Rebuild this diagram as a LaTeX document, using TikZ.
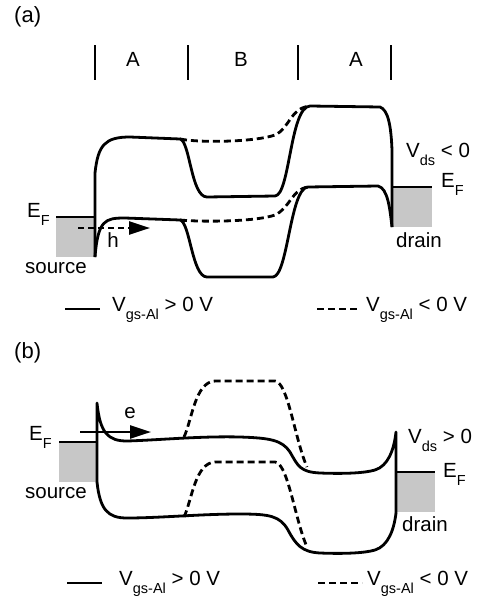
\documentclass[tikz,border=0pt]{standalone}
\usepackage{fontspec}
\setmainfont{Liberation Sans}
\usetikzlibrary{arrows.meta}
\newcommand\lsub[1]{\raisebox{-8.5pt}{\fontsize{14.5}{15}\selectfont #1}}

\begin{document}
\begin{tikzpicture}[x=1pt, y=-1pt, every node/.style={font=\fontsize{20.5}{24}\selectfont, inner sep=0pt},
	>={Triangle[length=21pt,width=13pt]},
	band/.style={line width=2.8pt, line join=round},
	gateneg/.style={band, dash pattern=on 7pt off 4pt},
	fermi/.style={fill=black!22}]
	\useasboundingbox (0,0) rectangle (479,597);

	% (a) V_ds < 0, holes
	\node[anchor=base west, font=\fontsize{22}{24}\selectfont] (taga) at (14,23) {(a)};
	\foreach \x in {95,188,298,391} {
		\draw[line width=2.6pt] (\x,45) -- (\x,80);
	}
	\node[anchor=base] (regAl) at (133,66) {A};
	\node[anchor=base] (regB) at (241,66) {B};
	\node[anchor=base] (regAr) at (356,66) {A};

	\fill[fermi] (56,217) rectangle (95,257);
	\fill[fermi] (393,187) rectangle (432,227);
	\draw[band] (56,217) -- (95,217);
	\draw[band] (392,187) -- (432,187);

	\draw[band] (95,257) -- (95,173) .. controls (98,145) and (105,137) .. (130,137) -- (180,139)
		.. controls (190,141) and (191,197) .. (207,197) -- (275,196)
		.. controls (290,195) and (290,107) .. (310,106) -- (380,107)
		.. controls (388,110) and (391,125) .. (392,150) -- (392,227);
	\draw[band] (95,257) .. controls (98,220) and (105,218) .. (125,218) -- (180,220)
		.. controls (190,222) and (192,277) .. (207,277) -- (273,277)
		.. controls (288,276) and (290,188) .. (308,187) -- (378,186)
		.. controls (388,188) and (390,210) .. (392,227);
	\draw[gateneg] (180,139) .. controls (200,143) and (255,142) .. (275,135)
		.. controls (290,128) and (290,108) .. (310,106);
	\draw[gateneg] (180,220) .. controls (200,222) and (255,222) .. (275,215)
		.. controls (290,208) and (292,189) .. (308,187);

	\coordinate (hfrom) at (78,228);
	\coordinate (hto) at (150,228);
	\draw[->, line width=2.4pt, dash pattern=on 6pt off 4pt] (hfrom) -- (hto);
	\node[anchor=base] (hlbl) at (113,247) {h};

	\node[anchor=base west] (efsa) at (27,217) {E\lsub{F}};
	\node[anchor=base west] (srca) at (25,273) {source};
	\node[anchor=base west] (vdsa) at (406,157) {V\lsub{ds} {<} 0};
	\node[anchor=base west] (efda) at (441,187) {E\lsub{F}};
	\node[anchor=base west] (drna) at (396,247) {drain};

	\coordinate (lsa1) at (65,309);
	\coordinate (lsa2) at (100,309);
	\coordinate (lda1) at (317,309);
	\coordinate (lda2) at (360,309);
	\draw[band] (lsa1) -- (lsa2);
	\draw[gateneg] (lda1) -- (lda2);
	\node[anchor=base west] (legpa) at (112,311) {V\lsub{gs-Al} {>} 0 V};
	\node[anchor=base west] (legna) at (366,311) {V\lsub{gs-Al} {<} 0 V};

	% (b) V_ds > 0, electrons
	\node[anchor=base west, font=\fontsize{22}{24}\selectfont] (tagb) at (14,358) {(b)};

	\fill[fermi] (59,442) rectangle (97,482);
	\fill[fermi] (397,472) rectangle (435,512);
	\draw[band] (59,442) -- (97,442);
	\draw[band] (396,472) -- (435,472);

	\draw[band] (97,482) -- (97,403) .. controls (100,433) and (108,441) .. (127,441)
		.. controls (160,440) and (200,436) .. (240,437)
		.. controls (270,438) and (282,440) .. (290,452)
		.. controls (298,466) and (300,472) .. (320,473)
		.. controls (345,474) and (365,473) .. (375,470)
		.. controls (388,466) and (394,450) .. (396,432) -- (396,513);
	\draw[band] (97,482) .. controls (100,510) and (108,518) .. (127,518)
		.. controls (160,518) and (200,514) .. (240,514)
		.. controls (270,514) and (280,516) .. (288,530)
		.. controls (296,545) and (302,552) .. (320,553)
		.. controls (345,554) and (365,553) .. (375,550)
		.. controls (388,546) and (394,530) .. (396,513);
	\draw[gateneg] (184,437) .. controls (192,420) and (195,382) .. (215,381) -- (275,381)
		.. controls (288,382) and (295,440) .. (307,467);
	\draw[gateneg] (184,517) .. controls (192,500) and (195,463) .. (215,462) -- (275,462)
		.. controls (288,463) and (295,520) .. (307,547);

	\coordinate (efrom) at (80,432);
	\coordinate (eto) at (151,432);
	\draw[->, line width=2.4pt] (efrom) -- (eto);
	\node[anchor=base] (elbl) at (130,418) {e};

	\node[anchor=base west] (efsb) at (29,440) {E\lsub{F}};
	\node[anchor=base west] (srcb) at (25,498) {source};
	\node[anchor=base west] (vdsb) at (408,443) {V\lsub{ds} {>} 0};
	\node[anchor=base west] (efdb) at (443,477) {E\lsub{F}};
	\node[anchor=base west] (drnb) at (402,531) {drain};

	\coordinate (lsb1) at (67,583);
	\coordinate (lsb2) at (102,583);
	\coordinate (ldb1) at (318,583);
	\coordinate (ldb2) at (362,583);
	\draw[band] (lsb1) -- (lsb2);
	\draw[gateneg] (ldb1) -- (ldb2);
	\node[anchor=base west] (legpb) at (119,585) {V\lsub{gs-Al} {>} 0 V};
	\node[anchor=base west] (legnb) at (367,585) {V\lsub{gs-Al} {<} 0 V};
\end{tikzpicture}
\end{document}
